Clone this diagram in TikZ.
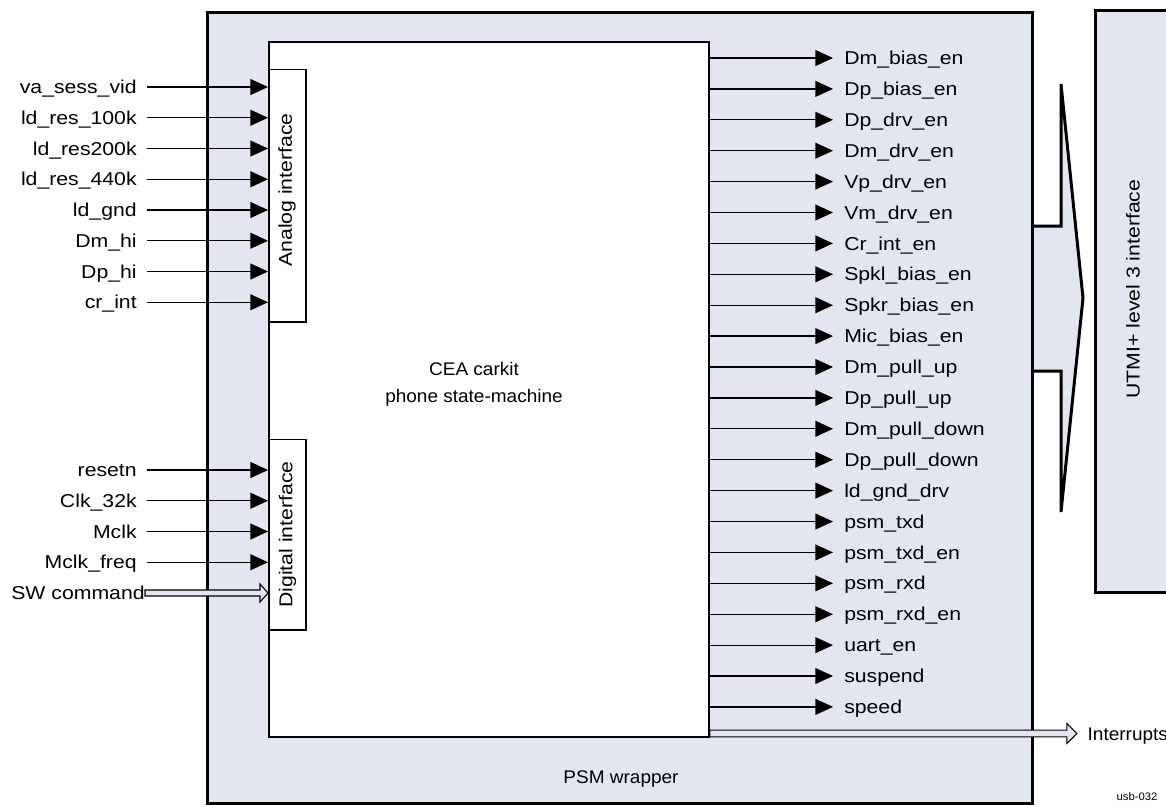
\documentclass[tikz,border=0pt]{standalone}
\usepackage{fontspec}
\setmainfont{Liberation Sans}[FakeStretch=1.04]
\newfontfamily\sigfont{Liberation Sans}[FakeStretch=1.14]
\usetikzlibrary{arrows.meta}
\definecolor{wrapblue}{RGB}{225,230,241}

\begin{document}
\begin{tikzpicture}[
  x=0.02cm, y=-0.02cm,
  sig/.style={-{Triangle[length=10pt,width=9pt]}, line width=0.7pt},
  sigtxt/.style={font=\sigfont\fontsize{10.6pt}{12pt}\selectfont},
  inlbl/.style={sigtxt, anchor=east, inner xsep=5.67pt, inner ysep=0pt,
                text height=7.6pt, text depth=0pt},
  outlbl/.style={inlbl, anchor=west, inner xsep=6.2pt},
  ifbox/.style={draw, fill=white, line width=0.6pt, inner sep=0pt, minimum width=0.74cm},
  hollow/.style={draw, fill=wrapblue, line width=0.6pt, line join=miter},
  thickbox/.style={line width=1.7pt}
]
  \useasboundingbox (0,0) rectangle (1166,806);

  % bus arrow towards the UTMI+ side
  \draw[thickbox, fill=wrapblue, line join=miter]
    (1033,226) -- (1061,226) -- (1061,84) -- (1083,298) -- (1061,512) -- (1061,371) -- (1033,371);

  \node[draw, thickbox, fill=wrapblue, inner sep=0pt, minimum width=16.52cm, minimum height=15.84cm]
    (wrap) at (620,408) {};
  \node[draw, line width=1.13pt, fill=white, inner sep=0pt, minimum width=8.8cm, minimum height=13.9cm]
    (psm) at (489,389.5) {};
  \node[ifbox, minimum height=5.06cm] (ana) at (287.5,195.5) {};
  \node[ifbox, minimum height=3.82cm] (dig) at (287.5,534.5) {};
  \node[sigtxt, rotate=90] at (287,190) {Analog interface};
  \node[sigtxt, rotate=90] at (dig) {Digital interface};

  \node[align=center, inner sep=0pt, font=\fontsize{10.4pt}{15.3pt}\selectfont] (fsm) at (474,384)
    {CEA carkit\\phone state-machine};
  \node[anchor=base, inner sep=0pt, font=\fontsize{10.4pt}{12pt}\selectfont] (wlbl) at (621,783) {PSM wrapper};

  % analog inputs
  \foreach \lab [count=\i from 0] in {va\_sess\_vid, ld\_res\_100k, ld\_res200k, ld\_res\_440k,
      ld\_gnd, Dm\_hi, Dp\_hi, cr\_int} {
    \node[inlbl] (in\i) at (147,{87+30.75*\i}) {\lab};
    \draw[sig] (in\i.east) -- (psm.west |- in\i.east);
  }

  % digital inputs
  \foreach \lab [count=\i from 0] in {resetn, Clk\_32k, Mclk, Mclk\_freq} {
    \node[inlbl] (dg\i) at (147,{470+30.75*\i}) {\lab};
    \draw[sig] (dg\i.east) -- (psm.west |- dg\i.east);
  }
  \node[inlbl, inner xsep=0pt] (sw) at (145,593) {SW command};
  \draw[hollow] (sw.east) ++(0,-3) -- ++(115,0) -- ++(0,-6) -- ++(8,9) -- ++(-8,9)
    -- ++(0,-6) -- ++(-115,0) -- cycle;

  % outputs
  \foreach \lab [count=\i from 0] in {Dm\_bias\_en, Dp\_bias\_en, Dp\_drv\_en, Dm\_drv\_en,
      Vp\_drv\_en, Vm\_drv\_en, Cr\_int\_en, Spkl\_bias\_en, Spkr\_bias\_en, Mic\_bias\_en,
      Dm\_pull\_up, Dp\_pull\_up, Dm\_pull\_down, Dp\_pull\_down, ld\_gnd\_drv, psm\_txd,
      psm\_txd\_en, psm\_rxd, psm\_rxd\_en, uart\_en, suspend, speed} {
    \node[outlbl] (out\i) at (833,{58+30.9*\i}) {\lab};
    \draw[sig] (psm.east |- out\i.west) -- (out\i.west);
  }

  \node[anchor=west, inner xsep=7pt, inner ysep=0pt, text height=7.4pt, text depth=0pt,
        font=\fontsize{10.4pt}{12pt}\selectfont] (intr) at (1075,733.5) {Interrupts};
  \draw[hollow] (psm.east |- intr.west) ++(0,-3.3) -- ++(357,0) -- ++(0,-6.7) -- ++(10,10)
    -- ++(-10,10) -- ++(0,-6.7) -- ++(-357,0) -- cycle;

  % UTMI+ block, cut by the right border
  \node[fill=wrapblue, inner sep=0pt, minimum width=1.4cm, minimum height=11.62cm]
    (utmi) at (1131,301.5) {};
  \draw[thickbox] (utmi.north east) -- (utmi.north west) -- (utmi.south west) -- (utmi.south east);
  \node[sigtxt, rotate=90] at (1133,289) {UTMI+ level 3 interface};

  \node[font=\fontsize{6.2pt}{7pt}\selectfont, inner sep=0pt] (tag) at (1137,797) {usb-032};
\end{tikzpicture}
\end{document}
